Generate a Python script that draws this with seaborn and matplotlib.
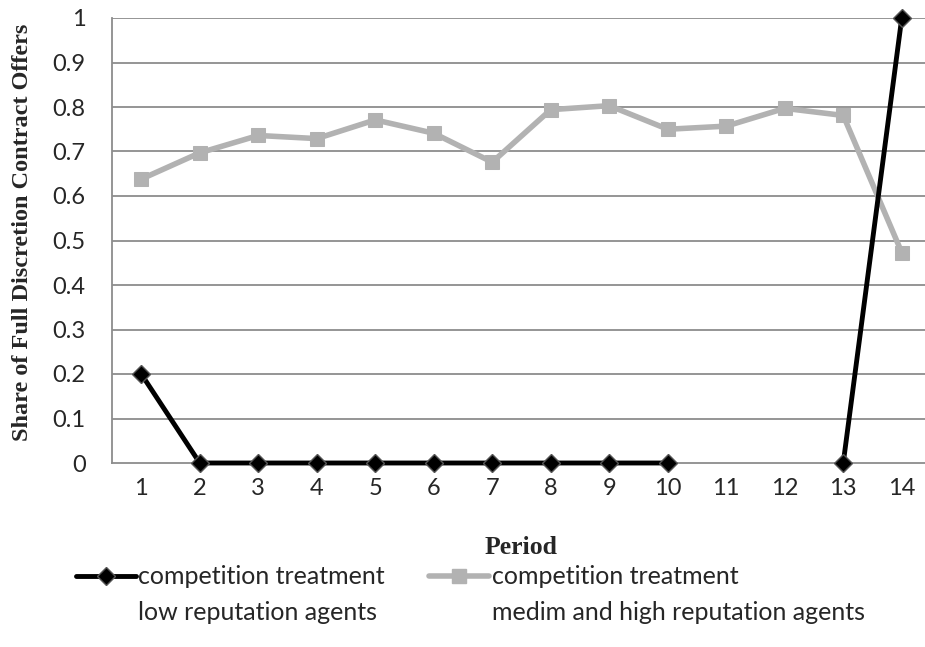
import numpy as np
import pandas as pd
import matplotlib
matplotlib.use("Agg")
import matplotlib.pyplot as plt
from matplotlib.lines import Line2D
from matplotlib.ticker import FuncFormatter, MultipleLocator
import seaborn as sns

periods = list(range(1, 15))
low_rep = [0.2, 0, 0, 0, 0, 0, 0, 0, 0, 0, np.nan, np.nan, 0, 1.0]
med_high_rep = [0.638, 0.697, 0.736, 0.729, 0.771, 0.741, 0.676, 0.794,
                0.803, 0.750, 0.757, 0.797, 0.781, 0.473]
label_low = ["competition treatment", "low reputation agents"]
label_high = ["competition treatment", "medim and high reputation agents"]
x_title = "Period"
y_title = "Share of Full Discretion Contract Offers"

sns.set_style("white")
plt.rcParams["font.family"] = ["Lato", "DejaVu Sans"]

fig = plt.figure(figsize=(9.25, 6.47), dpi=100)
ax = fig.add_axes([112 / 925, 1 - 463 / 647, (931 - 112) / 925, (463 - 18) / 647])

df_high = pd.DataFrame({"period": periods, "value": med_high_rep})
df_low = pd.DataFrame({"period": periods, "value": low_rep})
df_low["seg"] = df_low["value"].isna().cumsum()
df_low = df_low.dropna()

grid_c = "#8c8c8c"
for v in np.arange(0.1, 1.01, 0.1):
    ax.axhline(v, color=grid_c, lw=1.3, zorder=0)

sns.lineplot(data=df_high, x="period", y="value", ax=ax, color="#b2b2b2",
             lw=4, marker="s", markersize=10, markeredgecolor="#b2b2b2",
             estimator=None, sort=False, zorder=3, clip_on=False)
sns.lineplot(data=df_low, x="period", y="value", units="seg", ax=ax,
             color="black", lw=3.5, marker="D", markersize=9,
             markeredgecolor="#555555", markeredgewidth=1.0,
             estimator=None, sort=False, zorder=4, clip_on=False)

ax.set_xlim(0.5, 14.5)
ax.set_ylim(0, 1)
ax.set_xticks(periods)
ax.set_xticks(np.arange(0.5, 15, 1), minor=True)
ax.tick_params(axis="x", which="major", length=0, pad=11, labelsize=17)
ax.tick_params(axis="x", which="minor", length=6, color=grid_c, width=1.3, direction="out")
ax.yaxis.set_major_locator(MultipleLocator(0.1))
ax.yaxis.set_major_formatter(FuncFormatter(lambda v, p: f"{v:.1f}".rstrip("0").rstrip(".") if v else "0"))
ax.tick_params(axis="y", which="major", length=6, color=grid_c, width=1.3,
               direction="out", labelsize=17, pad=13)
for s in ["top", "right"]:
    ax.spines[s].set_visible(False)
for s in ["left", "bottom"]:
    ax.spines[s].set_color(grid_c)
    ax.spines[s].set_linewidth(1.3)
ax.set_xlabel(x_title, fontfamily="Liberation Serif", fontweight="bold", fontsize=18.5)
ax.xaxis.set_label_coords(0.5, -(547 - 463) / 445)
ax.xaxis.label.set_va("center")
ax.set_ylabel(y_title, fontfamily="Liberation Serif", fontweight="bold", fontsize=17.5)
ax.yaxis.set_label_coords(-(112 - 23) / 819, (463 - 232) / 445)
ax.yaxis.label.set_va("center")

handles = [
    Line2D([], [], color="black", lw=3.5, marker="D", markersize=9,
           markeredgecolor="#555555"),
    Line2D([], [], color="#b2b2b2", lw=4, marker="s", markersize=10,
           markeredgecolor="#b2b2b2"),
]
leg = fig.legend(handles, [label_low[0], label_high[0]], ncol=2,
                 loc="center left", bbox_to_anchor=(76 / 925, 1 - 577 / 647),
                 frameon=False, fontsize=18, handlelength=2.4,
                 handletextpad=0.1, columnspacing=1.76, borderpad=0,
                 borderaxespad=0)
fig.canvas.draw()
inv = fig.transFigure.inverted()
for t, lab in zip(leg.get_texts(), [label_low[1], label_high[1]]):
    bb = t.get_window_extent()
    x0, _ = inv.transform((bb.x0, bb.y0))
    fig.text(x0, 1 - 612 / 647, lab, fontsize=18, va="center", ha="left")

fig.savefig("out.png", dpi=100)
